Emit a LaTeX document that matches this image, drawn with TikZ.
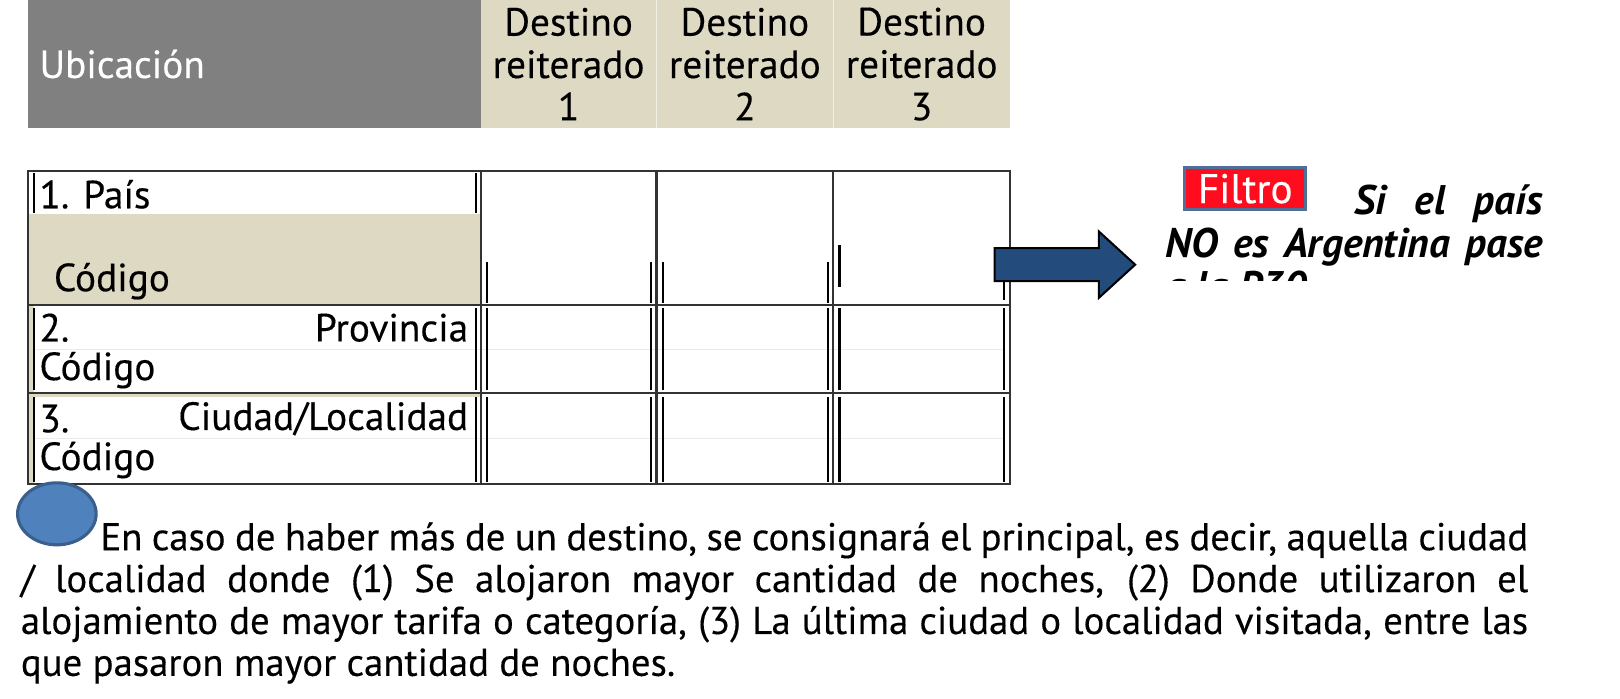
\documentclass[tikz,border=0pt]{standalone}
\usepackage{fontspec}
\setmainfont{PT Sans}[UprightFeatures={FakeBold=0.3}]
\usetikzlibrary{positioning}

\definecolor{hdrgray}{HTML}{808080}
\definecolor{beige}{HTML}{DDD9C3}
\definecolor{gridgray}{HTML}{333333}
\definecolor{faint}{HTML}{EBEBEB}
\definecolor{arrowblue}{HTML}{234C7C}
\definecolor{filtrored}{HTML}{FF0D1F}
\definecolor{filtroedge}{HTML}{4F6E98}
\definecolor{dotblue}{HTML}{4F81BD}
\definecolor{dotedge}{HTML}{3A5F8C}

\begin{document}
\begin{tikzpicture}[x=1pt, y=-1pt, font=\fontsize{38}{41}\selectfont,
  txt/.style={inner sep=0pt, anchor=west},
  head/.style={inner sep=0pt, align=center},
  grid/.style={draw=gridgray, line width=2pt},
  dbl/.style={draw=black, line width=2pt}]
	\useasboundingbox (0,0) rectangle (1567,675.3);
	% header
	\fill[hdrgray] (27,0) rectangle (465,124);
	\fill[beige] (465,0) rectangle (977,124);
	\draw[white!60!beige] (635,0) -- (635,124) (806,0) -- (806,124);
	\node[txt, text=white] (ubic) at (38,62) {Ubicación};
	\node[head] (dest1) at (550,62) {Destino\\reiterado\\1};
	\node[head] (dest2) at (720.5,62) {Destino\\reiterado\\2};
	\node[head] (dest3) at (891.5,62) {Destino\\reiterado\\3};
	% table fills
	\fill[beige] (27,207) rectangle (465,295);
	\fill[beige] (27,295) rectangle (33,468);
	\fill[beige] (27,380) rectangle (465,384);
	\draw[faint, line width=1.5pt] (33,338) -- (971,338) (33,424) -- (971,424);
	% table grid
	\draw[grid] (27,165) rectangle (977,468);
	\draw[grid] (27,295) -- (977,295) (27,380) -- (977,380);
	\foreach \xb in {465,635,806}
		\draw[grid] (\xb,165) -- (\xb,468);
	% double lines, rows 2 and 3
	\foreach \ya/\yb in {298/377, 384/466} {
		\draw[dbl] (33,\ya) -- (33,\yb) (971,\ya) -- (971,\yb);
		\foreach \xb in {465,635,806}
			\draw[dbl] (\xb-5,\ya) -- (\xb-5,\yb) (\xb+6,\ya) -- (\xb+6,\yb);
	}
	% double lines, row 1
	\draw[dbl] (33,167) -- (33,206) (460,167) -- (460,206);
	\draw[dbl] (471,253) -- (471,293) (630,253) -- (630,293) (641,253) -- (641,293);
	\draw[dbl] (801,253) -- (801,293) (812,237) -- (812,278) (971,245) -- (971,290);
	% row labels
	\node[txt] (pais) at (38,188) {1. País};
	\node[txt] (cod1) at (52,272) {Código};
	\node[txt] (num2) at (38,317) {2.};
	\node[inner sep=0pt, anchor=east] (prov) at (453,317) {Provincia};
	\node[txt] (cod2) at (38,358) {Código};
	\node[txt] (num3) at (38,405) {3.};
	\node[inner sep=0pt, anchor=east] (ciud) at (453,405) {Ciudad/Localidad};
	\node[txt] (cod3) at (38,445) {Código};
	% arrow
	\draw[fill=arrowblue, line width=2pt] (962,240) -- (1063,240) -- (1063,224) -- (1098,256)
		-- (1063,288) -- (1063,272) -- (962,272) -- cycle;
	% filter note
	\node[fill=filtrored, draw=filtroedge, line width=3pt, text=white, inner sep=0pt,
		minimum width=117pt, minimum height=41pt] (filtro) at (1204.5,182.5)
		{\fontsize{40}{40}\selectfont Filtro};
	\begin{scope}
		\clip (1100,150) rectangle (1520,271);
		\node[inner sep=0pt, anchor=north west, text width=365pt, align=justify,
			font=\fontsize{40}{42}\selectfont\bfseries\itshape] (nota) at (1127,178)
			{\hspace*{183pt}Si el país\linebreak NO es Argentina pase\linebreak a la P30};
	\end{scope}
	% bottom note
	\draw[fill=dotblue, draw=dotedge, line width=3pt] (55,497) ellipse (38 and 30);
	\node[inner sep=0pt, anchor=north west, text width=1458pt, align=justify,
		font=\fontsize{37.5}{40.5}\selectfont] (texto) at (20,505)
		{\hspace*{77pt}En caso de haber más de un destino, se consignará el principal, es decir, aquella ciudad\linebreak
		/ localidad donde (1) Se alojaron mayor cantidad de noches, (2) Donde utilizaron el\linebreak
		alojamiento de mayor tarifa o categoría, (3) La última ciudad o localidad visitada, entre las\linebreak
		que pasaron mayor cantidad de noches.};
\end{tikzpicture}
\end{document}
